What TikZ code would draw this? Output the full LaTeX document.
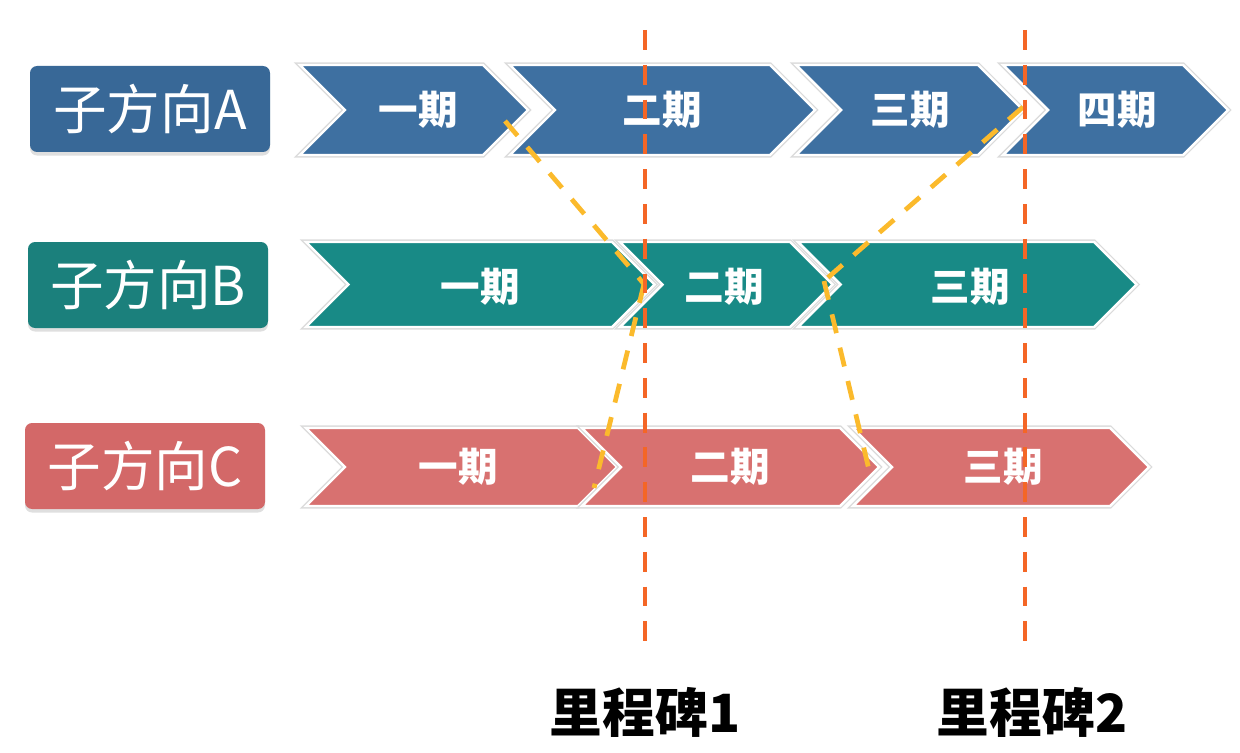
\documentclass[tikz,border=0pt]{standalone}
\usepackage{fontspec}
\setmainfont{Noto Sans CJK SC}
\usetikzlibrary{shadows}
\definecolor{chA}{RGB}{62,112,161}
\definecolor{lbA}{RGB}{56,104,151}
\definecolor{chB}{RGB}{24,138,134}
\definecolor{lbB}{RGB}{27,128,124}
\definecolor{chC}{RGB}{216,113,112}
\definecolor{lbC}{RGB}{211,104,104}
\definecolor{msOrange}{RGB}{244,102,38}
\definecolor{lnYellow}{RGB}{251,186,44}
\newcommand\mychev[5]{%
  \pgfmathsetmacro\chm{(#3+#4)/2}%
  \pgfmathsetmacro\chd{(#4-#3)/2}%
  \pgfmathsetmacro\chxa{#1+\chd}%
  \pgfmathsetmacro\chxb{#2+\chd}%
  \path[chevbox, fill=#5] (#1,#3) -- (#2,#3) -- (\chxb,\chm) -- (#2,#4) -- (#1,#4) -- (\chxa,\chm) -- cycle;}
\tikzset{
  chevbox/.style={draw=white, line width=1.4pt, line join=miter,
    preaction={draw=black!14, line width=3pt}},
  lblbox/.style={rounded corners=4pt, minimum width=240*0.02cm, minimum height=86*0.02cm,
    text=white, font=\fontsize{30.5}{31}\selectfont, inner sep=0pt,
    drop shadow={shadow xshift=0pt, shadow yshift=-2pt, opacity=0.25}},
  chevtext/.style={text=white, font=\fontsize{22.5}{23}\selectfont\bfseries, inner sep=0pt},
  mstext/.style={text=black, font=\fontsize{30}{31}\selectfont\bfseries, inner sep=0pt},
  msline/.style={draw=msOrange, line width=2.8pt, dash pattern=on 11.3pt off 8.5pt},
  linkline/.style={draw=lnYellow, line width=2.7pt, dash pattern=on 11pt off 8.5pt}
}
\begin{document}
\begin{tikzpicture}[x=0.02cm, y=-0.02cm]
\useasboundingbox (0,0) rectangle (1240,753);
% labels
\node[lblbox, fill=lbA] (labA) at (150,109) {子方向A};
\node[lblbox, fill=lbB] (labB) at (148,285) {子方向B};
\node[lblbox, fill=lbC] (labC) at (145,466) {子方向C};
% row A
\mychev{300}{483}{65}{155}{chA}
\mychev{510}{770}{65}{155}{chA}
\mychev{796}{978}{65}{155}{chA}
\mychev{1003}{1183}{65}{155}{chA}
% row B
\mychev{306}{612}{242}{327}{chB}
\mychev{620}{790}{242}{327}{chB}
\mychev{798}{1094}{242}{327}{chB}
% row C
\mychev{306}{578}{428}{506}{chC}
\mychev{582}{840}{428}{506}{chC}
\mychev{853}{1110}{428}{506}{chC}
% chevron texts
\node[chevtext] (a1) at (418,110) {一期};
\node[chevtext] (a2) at (662,110) {二期};
\node[chevtext] (a3) at (910,110) {三期};
\node[chevtext] (a4) at (1117,110) {四期};
\node[chevtext] (b1) at (480,287) {一期};
\node[chevtext] (b2) at (724,287) {二期};
\node[chevtext] (b3) at (970,287) {三期};
\node[chevtext] (c1) at (458,467) {一期};
\node[chevtext] (c2) at (730,467) {二期};
\node[chevtext] (c3) at (1003,467) {三期};
% dependency links
\coordinate (y1a) at (505,121);
\coordinate (y1b) at (644,284);
\coordinate (y1c) at (594,488);
\coordinate (y2a) at (1023,107);
\coordinate (y2b) at (824,281);
\coordinate (y2c) at (870,474);
\draw[linkline] (y1a) -- (y1b);
\draw[linkline] (y1b) -- (y1c);
\draw[linkline] (y2a) -- (y2b);
\draw[linkline] (y2b) -- (y2c);
% milestones
\coordinate (m1t) at (645,30);
\coordinate (m1b) at (645,652);
\coordinate (m2t) at (1025,30);
\coordinate (m2b) at (1025,652);
\draw[msline] (m1t) -- (m1b);
\draw[msline] (m2t) -- (m2b);
\node[mstext] (ms1) at (645,712) {里程碑1};
\node[mstext] (ms2) at (1032,712) {里程碑2};
\end{tikzpicture}
\end{document}
